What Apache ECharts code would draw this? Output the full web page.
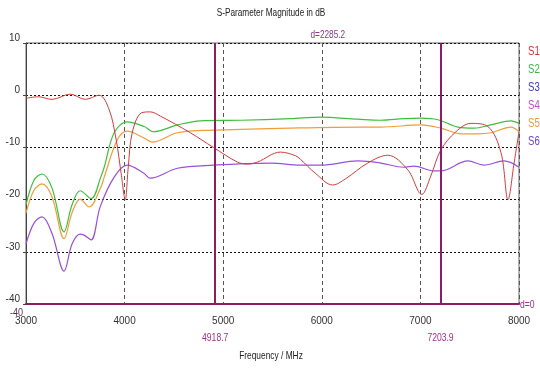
<!DOCTYPE html>
<html><head><meta charset="utf-8">
<script src="https://cdn.jsdelivr.net/npm/echarts@6/dist/echarts.min.js"></script>
<style>html,body{margin:0;padding:0;background:#fff}#c{width:540px;height:369px}</style>
</head><body><div id="c"></div>
<script>
// ---- data ----
const xTicks = [3000, 4000, 5000, 6000, 7000, 8000];
const yTicks = [10, 0, -10, -20, -30, -40];

const s1Freq = [3000,3125,3264,3449,3601,3742,3844,3915,3965,4006,4037,4077,4169,4260,4362,4667,4900,5144,5246,5348,5581,5734,5785,5937,6110,6242,6465,6669,6872,7014,7105,7207,7360,7512,7685,7817,7888,7950,8000];
const s1Val  = [-0.6,-0.3,-0.8,0.2,-0.8,0,-2.8,-8.6,-15,-20,-13.8,-7.2,-3.4,-3.2,-4,-7.2,-10,-12.8,-13.2,-12.8,-10.9,-11.6,-12.3,-15,-17.2,-16,-13,-11.5,-14.3,-19,-15.5,-10.5,-7,-5.4,-6,-11,-20,-13,-7];

const s2Freq = [3000,3081,3163,3264,3386,3467,3549,3661,3762,3793,3894,4026,4199,4291,4535,4768,5175,5683,5988,6364,6598,6831,7004,7177,7380,7543,7715,7919,8000];
const s2Val  = [-21,-16.3,-15.1,-17.8,-26.2,-21,-18.3,-19.8,-15.5,-13.8,-7.2,-5.1,-6,-7,-5.7,-4.9,-4.8,-4.5,-4.2,-4.6,-4.8,-4.5,-4.4,-4.7,-6.1,-6.3,-5.7,-4.9,-5.4];

const s5Freq = [3000,3081,3163,3264,3386,3467,3549,3640,3762,3793,3925,4026,4199,4281,4535,4900,5683,6394,6598,7004,7207,7411,7584,7715,7919,8000];
const s5Val  = [-22.6,-18.2,-17,-19.5,-27.5,-22.5,-19.9,-21.4,-17.5,-15.7,-8.6,-6.9,-8.2,-9,-7.2,-6.7,-6.3,-6.1,-6.1,-5.7,-6.3,-7.4,-7.4,-7.2,-6.1,-7];

const s6Freq = [3000,3081,3163,3264,3386,3467,3549,3589,3661,3752,3894,4026,4199,4260,4535,4900,5480,5785,5988,6364,6598,6831,6933,7136,7207,7482,7644,7848,8000];
const s6Val  = [-28.5,-24.5,-23.3,-26.5,-33.7,-28.5,-26.6,-26.8,-27.7,-21.4,-15.7,-13.4,-15,-15.9,-14,-13.4,-13,-13.4,-13.4,-12.6,-13,-13.8,-13.6,-14.5,-14.5,-12.6,-13.4,-12.6,-13.8];

const markerFreq = [4918.7, 7203.9];
const markerLabels = ['4918.7', '7203.9'];
const deltaLabel = 'd=2285.2';
const bottomDeltaLabel = 'd=0';
const legendNames = ['S1,', 'S2,', 'S3,', 'S4,', 'S5,', 'S6,'];
const legendColors = ['#cf3535', '#3fb43f', '#3b3bb0', '#c24ec2', '#e99a3e', '#7043c4'];
const titleText = 'S-Parameter Magnitude in dB';
const xTitleText = 'Frequency / MHz';

// ---- chart ----
const FONT = "'Liberation Sans',sans-serif";
const MARK = '#8e1b68';
const zip = (f, v) => f.map((x, i) => [x, v[i]]);
const chart = echarts.init(document.getElementById('c'), null, {renderer: 'canvas'});

function mkSeries(name, f, v, color, width, extra) {
  return Object.assign({
    name, type: 'line', data: zip(f, v), showSymbol: false, smooth: 0.35,
    lineStyle: {color, width}, itemStyle: {color}, silent: true, animation: false, z: 3
  }, extra || {});
}

chart.setOption({
  animation: false,
  grid: {left: 26, right: 21, top: 43, bottom: 65, show: true, borderColor: '#666', borderWidth: 1},
  xAxis: {
    type: 'value', min: 3000, max: 8000, interval: 1000,
    axisLine: {show: true, onZero: false, lineStyle: {color: MARK, width: 2}},
    axisTick: {show: false},
    axisLabel: {color: '#333', fontSize: 10, fontFamily: FONT, margin: 12,
      formatter: v => xTicks.includes(v) ? String(v) : ''},
    splitLine: {show: true, lineStyle: {color: '#555', type: [4, 3], width: 1}}
  },
  yAxis: {
    type: 'value', min: -40, max: 10, interval: 10,
    axisLine: {show: true, onZero: false, lineStyle: {color: '#444', width: 1}},
    axisTick: {show: true, length: 3, lineStyle: {color: '#444'}},
    axisLabel: {color: '#333', fontSize: 10, fontFamily: FONT, margin: 6, verticalAlign: 'bottom',
      formatter: v => yTicks.includes(v) ? String(v) : ''},
    splitLine: {show: true, lineStyle: {color: '#111', type: [2, 2], width: 1}}
  },
  series: [
    mkSeries('S6', s6Freq, s6Val, '#9a50dc', 1.2),
    mkSeries('S5', s5Freq, s5Val, '#f29c3a', 1.2),
    mkSeries('S2', s2Freq, s2Val, '#3fbf3f', 1.2),
    mkSeries('S1', s1Freq, s1Val, '#d23a3a', 1, {
      markLine: {
        silent: true, symbol: ['none', 'none'], animation: false,
        lineStyle: {color: MARK, width: 2, type: 'solid'},
        label: {show: false},
        data: markerFreq.map(f => ({xAxis: f}))
      }
    })
  ]
});

// texts placed using the chart's own scale
const px = f => chart.convertToPixel({xAxisIndex: 0}, f);
const py = v => chart.convertToPixel({yAxisIndex: 0}, v);
const g = [];
const txt = (x, y, text, opt, sx) => g.push({type: 'text', x, y, silent: true, z: 10, scaleX: sx || 0.78,
  style: Object.assign({text, fill: '#222', font: '11px ' + FONT, textAlign: 'center', textVerticalAlign: 'middle'}, opt || {})});

txt(271, 13, titleText, null, 0.75);
txt(271, 356, xTitleText, null, 0.76);
markerFreq.forEach((f, i) => txt(px(f), 338, markerLabels[i], {fill: '#99338a'}));
txt((px(markerFreq[0]) + px(markerFreq[1])) / 2, 35, deltaLabel, {fill: '#99338a'}, 0.75);
txt(px(8000) + 1, py(-40) + 1, bottomDeltaLabel, {fill: '#99338a', textAlign: 'left'});
txt(23, py(-40) + 9, '-40', {fill: '#553355', textAlign: 'right', font: '10px ' + FONT}, 0.9);
legendNames.forEach((n, i) => txt(528, 52 + i * 18, n, {fill: legendColors[i], textAlign: 'left', font: '12px ' + FONT}, 0.8));
chart.setOption({graphic: g});
</script>
</body></html>
